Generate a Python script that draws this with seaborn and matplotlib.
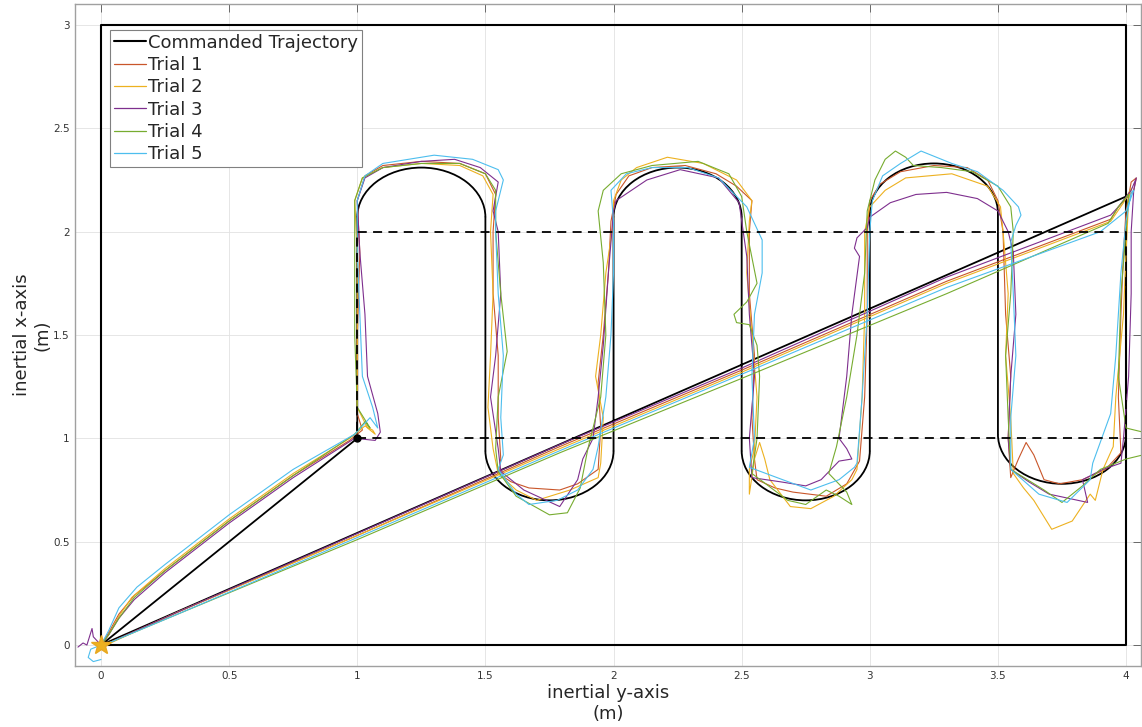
import numpy as np
import pandas as pd
import matplotlib
matplotlib.use("Agg")
import matplotlib.pyplot as plt
import seaborn as sns
from matplotlib.patches import Arc
from matplotlib.lines import Line2D

sns.set_style("white")
plt.rcParams["font.family"] = ["DejaVu Sans"]

# ---------------------------------------------------------------- data
# Horizontal axis = inertial y (m), vertical axis = inertial x (m)

# Flight-area boundary and target band
boundary_y = [0, 4, 4, 0, 0]
boundary_x = [0, 0, 3, 3, 0]
band_y = [1, 4, 4, 1, 1]
band_x = [1, 1, 2, 2, 1]

# Commanded lawn-mower path: straight legs plus rounded turns
top_turn_center = [1.25, 2.25, 3.25]
top_turn_spring = [2.07, 2.07, 2.09]
top_turn_apex = [2.31, 2.31, 2.33]
bottom_turn_center = [1.75, 2.75, 3.75]
bottom_turn_spring = [0.94, 0.94, 1.02]
bottom_turn_low = [0.70, 0.70, 0.78]
entry_point = (1.0, 1.0)
exit_point = (4.0, 2.17)
start_point = (0.0, 0.0)

trial_names = ["Trial 1", "Trial 2", "Trial 3", "Trial 4", "Trial 5"]
trial_colors = ["#C9562A", "#EDB120", "#7E2F8E", "#77AC30", "#4DBEEE"]

trial1_y = [-0.01, 0.0, 0.03, 0.07, 0.13, 0.25, 0.5, 0.75, 0.97, 1.02, 1.0, 1.0, 1.01, 1.0, 1.03, 1.1, 1.25, 1.4, 1.5, 1.54,
            1.53, 1.53, 1.55, 1.55, 1.56, 1.55, 1.6, 1.67, 1.79, 1.86, 1.94, 1.95, 1.94, 1.96, 1.98, 1.99, 2.01, 2.06, 2.15, 2.28,
            2.4, 2.48, 2.54, 2.53, 2.53, 2.55, 2.54, 2.55, 2.56, 2.63, 2.7, 2.83, 2.91, 2.96, 2.98, 2.99, 2.99, 3.0, 3.04, 3.12,
            3.25, 3.38, 3.46, 3.5, 3.52, 3.53, 3.55, 3.54, 3.55, 3.58, 3.61, 3.64, 3.68, 3.74, 3.83, 3.92, 3.98, 3.97, 3.98, 3.99,
            4.0, 4.02, 4.04, 4.03, 3.97, 3.94, 3.3, 2.5, 1.79, 1.0, 0.3, 0.03]
trial1_x = [-0.03, 0.0, 0.06, 0.15, 0.24, 0.36, 0.60, 0.82, 0.99, 1.04, 1.12, 1.5, 1.9, 2.15, 2.27, 2.32, 2.34, 2.33, 2.28, 2.18,
            2.0, 1.7, 1.4, 1.1, 0.9, 0.83, 0.79, 0.76, 0.75, 0.78, 0.85, 1.05, 1.27, 1.5, 1.8, 2.05, 2.18, 2.27, 2.31, 2.32,
            2.28, 2.22, 2.15, 2.0, 1.7, 1.4, 1.1, 0.9, 0.80, 0.76, 0.74, 0.72, 0.78, 0.89, 1.2, 1.6, 2.0, 2.15, 2.23, 2.29,
            2.32, 2.31, 2.25, 2.15, 2.0, 1.6, 1.3, 1.0, 0.81, 0.9, 0.98, 0.92, 0.80, 0.78, 0.80, 0.85, 0.93, 1.2, 1.6, 1.9,
            2.1, 2.24, 2.26, 2.2, 2.12, 2.06, 1.76, 1.33, 0.96, 0.53, 0.16, 0.01]

trial2_y = [0.0, 0.03, 0.07, 0.12, 0.25, 0.5, 0.75, 0.97, 1.03, 1.06, 1.07, 1.04, 1.0, 1.0, 1.0, 0.99, 1.02, 1.1, 1.25, 1.4,
            1.49, 1.53, 1.52, 1.53, 1.52, 1.51, 1.53, 1.55, 1.62, 1.7, 1.83, 1.94, 1.95, 1.96, 1.93, 1.95, 1.97, 2.0, 2.0, 2.03,
            2.09, 2.21, 2.35, 2.48, 2.54, 2.53, 2.52, 2.54, 2.56, 2.55, 2.53, 2.53, 2.55, 2.57, 2.59, 2.61, 2.69, 2.77, 2.86, 2.93,
            2.95, 2.97, 2.98, 2.98, 3.0, 3.06, 3.14, 3.32, 3.46, 3.51, 3.52, 3.54, 3.53, 3.55, 3.56, 3.6, 3.64, 3.71, 3.79, 3.86,
            3.88, 3.91, 3.95, 3.96, 3.99, 4.0, 4.01, 4.02, 3.99, 3.94, 3.3, 2.5, 1.79, 1.0, 0.3, 0.02]
trial2_x = [0.0, 0.05, 0.14, 0.23, 0.37, 0.61, 0.83, 1.0, 1.06, 1.04, 1.02, 1.05, 1.15, 1.5, 1.9, 2.15, 2.26, 2.31, 2.33, 2.32,
            2.27, 2.18, 2.0, 1.7, 1.4, 1.15, 0.95, 0.83, 0.75, 0.70, 0.75, 0.81, 0.88, 1.1, 1.3, 1.5, 1.8, 2.05, 2.15, 2.25,
            2.31, 2.36, 2.33, 2.25, 2.15, 2.05, 1.8, 1.5, 1.2, 0.95, 0.85, 0.73, 0.9, 0.98, 0.9, 0.80, 0.67, 0.66, 0.72, 0.80,
            0.85, 1.2, 1.6, 2.0, 2.12, 2.2, 2.26, 2.28, 2.22, 2.12, 2.0, 1.7, 1.4, 1.1, 0.83, 0.76, 0.70, 0.56, 0.60, 0.73,
            0.70, 0.85, 0.96, 1.2, 1.6, 1.9, 2.15, 2.21, 2.14, 2.05, 1.75, 1.32, 0.95, 0.53, 0.16, 0.0]

trial3_y = [-0.09, -0.07, -0.055, -0.035, -0.03, 0.0, 0.03, 0.07, 0.13, 0.25, 0.5, 0.75, 0.99, 1.07, 1.09, 1.08, 1.04, 1.03, 1.01, 1.0,
            1.03, 1.1, 1.25, 1.38, 1.48, 1.55, 1.53, 1.55, 1.56, 1.54, 1.52, 1.55, 1.56, 1.65, 1.79, 1.86, 1.88, 1.92, 1.94, 1.96,
            1.98, 2.0, 2.01, 2.13, 2.26, 2.41, 2.49, 2.52, 2.53, 2.55, 2.53, 2.54, 2.65, 2.75, 2.81, 2.88, 2.93, 2.91, 2.88, 2.91,
            2.93, 2.96, 2.94, 2.95, 2.99, 3.0, 3.08, 3.18, 3.3, 3.42, 3.5, 3.54, 3.56, 3.57, 3.55, 3.54, 3.55, 3.62, 3.7, 3.85,
            3.83, 3.91, 3.98, 3.99, 4.01, 4.02, 4.02, 4.03, 4.04, 4.02, 3.97, 3.94, 3.3, 2.5, 1.79, 1.0, 0.3, 0.03]
trial3_x = [-0.01, 0.01, 0.0, 0.08, 0.04, 0.0, 0.05, 0.13, 0.22, 0.35, 0.59, 0.81, 1.0, 0.99, 1.03, 1.12, 1.3, 1.6, 1.9, 2.15,
            2.26, 2.31, 2.34, 2.35, 2.31, 2.24, 2.1, 2.0, 1.7, 1.4, 1.2, 0.95, 0.84, 0.75, 0.67, 0.80, 0.9, 1.0, 1.2, 1.45,
            1.8, 2.1, 2.15, 2.25, 2.30, 2.26, 2.14, 1.88, 1.6, 1.3, 1.0, 0.81, 0.79, 0.77, 0.80, 0.89, 0.90, 0.95, 1.0, 1.3,
            1.6, 1.88, 1.92, 1.97, 2.02, 2.07, 2.14, 2.18, 2.19, 2.16, 2.10, 2.0, 1.9, 1.6, 1.3, 1.0, 0.85, 0.79, 0.73, 0.69,
            0.80, 0.85, 0.88, 1.0, 1.3, 1.7, 2.0, 2.2, 2.26, 2.2, 2.12, 2.08, 1.78, 1.34, 0.97, 0.54, 0.16, 0.01]

trial4_y = [0.0, 0.03, 0.07, 0.13, 0.25, 0.5, 0.75, 0.99, 1.03, 1.05, 1.0, 0.99, 0.99, 0.99, 1.02, 1.1, 1.25, 1.4, 1.5, 1.54,
            1.54, 1.56, 1.585, 1.55, 1.54, 1.55, 1.62, 1.75, 1.82, 1.87, 1.9, 1.95, 1.97, 1.96, 1.94, 1.96, 2.03, 2.15, 2.33, 2.45,
            2.5, 2.52, 2.56, 2.52, 2.47, 2.48, 2.53, 2.56, 2.57, 2.56, 2.54, 2.68, 2.75, 2.83, 2.88, 2.93, 2.91, 2.84, 2.87, 2.91,
            2.95, 2.98, 2.99, 3.02, 3.06, 3.1, 3.14, 3.17, 3.28, 3.4, 3.5, 3.55, 3.56, 3.55, 3.53, 3.54, 3.55, 3.68, 3.75, 3.83,
            3.9, 4.0, 4.1, 4.1, 4.0, 3.97, 3.98, 4.0, 4.01, 3.97, 3.93, 3.3, 2.5, 1.79, 1.0, 0.3, 0.03]
trial4_x = [0.0, 0.05, 0.13, 0.23, 0.36, 0.60, 0.82, 1.02, 1.08, 1.05, 1.15, 1.5, 1.9, 2.15, 2.26, 2.31, 2.33, 2.33, 2.28, 2.2,
            2.0, 1.7, 1.42, 1.2, 0.95, 0.84, 0.72, 0.63, 0.64, 0.76, 0.95, 1.2, 1.5, 1.85, 2.1, 2.2, 2.28, 2.32, 2.34, 2.28,
            2.17, 2.0, 1.75, 1.66, 1.60, 1.56, 1.55, 1.45, 1.3, 1.0, 0.83, 0.70, 0.68, 0.75, 0.72, 0.68, 0.74, 0.83, 0.96, 1.2,
            1.5, 1.8, 2.1, 2.25, 2.35, 2.39, 2.36, 2.32, 2.31, 2.29, 2.22, 2.12, 2.0, 1.7, 1.4, 1.1, 0.85, 0.75, 0.69, 0.77,
            0.85, 0.90, 0.93, 1.02, 1.05, 1.3, 1.7, 2.0, 2.18, 2.12, 2.04, 1.70, 1.29, 0.93, 0.51, 0.15, 0.01]

trial5_y = [0.0, -0.03, -0.05, -0.04, 0.0, 0.03, 0.07, 0.14, 0.25, 0.5, 0.75, 0.99, 1.05, 1.08, 1.06, 1.02, 1.01, 1.0, 1.0, 1.03,
            1.1, 1.3, 1.45, 1.55, 1.57, 1.54, 1.54, 1.55, 1.57, 1.56, 1.57, 1.55, 1.62, 1.67, 1.78, 1.86, 1.92, 1.94, 1.97, 1.99,
            2.0, 2.0, 1.99, 2.05, 2.15, 2.29, 2.41, 2.52, 2.58, 2.58, 2.55, 2.54, 2.55, 2.53, 2.66, 2.77, 2.88, 2.94, 2.95, 2.97,
            2.99, 3.0, 3.01, 3.05, 3.12, 3.2, 3.24, 3.32, 3.42, 3.52, 3.58, 3.59, 3.57, 3.55, 3.56, 3.57, 3.55, 3.55, 3.66, 3.77,
            3.86, 3.87, 3.94, 3.96, 3.98, 4.0, 4.02, 4.03, 4.0, 3.9, 3.3, 2.5, 1.79, 1.0, 0.3, 0.03]
trial5_x = [-0.07, -0.08, -0.06, -0.02, 0.0, 0.07, 0.18, 0.28, 0.39, 0.63, 0.85, 1.02, 1.1, 1.05, 1.15, 1.3, 1.6, 1.9, 2.15, 2.27,
            2.33, 2.37, 2.35, 2.3, 2.25, 2.1, 2.0, 1.7, 1.4, 1.1, 0.92, 0.85, 0.73, 0.68, 0.70, 0.75, 0.85, 0.96, 1.2, 1.5,
            1.8, 2.05, 2.2, 2.28, 2.31, 2.31, 2.26, 2.12, 1.96, 1.80, 1.6, 1.3, 1.0, 0.86, 0.80, 0.75, 0.80, 0.86, 0.88, 1.2,
            1.6, 2.0, 2.15, 2.27, 2.33, 2.39, 2.37, 2.33, 2.29, 2.20, 2.12, 2.08, 2.03, 1.95, 1.7, 1.4, 1.1, 0.85, 0.73, 0.69,
            0.80, 0.88, 1.12, 1.4, 1.8, 2.05, 2.19, 2.2, 2.1, 2.0, 1.73, 1.31, 0.94, 0.52, 0.15, 0.01]

x_ticks = [0, 0.5, 1, 1.5, 2, 2.5, 3, 3.5, 4]
x_tick_labels = ["0", "0.5", "1", "1.5", "2", "2.5", "3", "3.5", "4"]
y_ticks = [0, 0.5, 1, 1.5, 2, 2.5, 3]
y_tick_labels = ["0", "0.5", "1", "1.5", "2", "2.5", "3"]

# ---------------------------------------------------------------- frames
trial_frames = []
for name, ys, xs in zip(trial_names,
                        [trial1_y, trial2_y, trial3_y, trial4_y, trial5_y],
                        [trial1_x, trial2_x, trial3_x, trial4_x, trial5_x]):
    trial_frames.append(pd.DataFrame({"y_pos": ys, "x_pos": xs, "trial": name}))
trials = pd.concat(trial_frames, ignore_index=True)

# straight legs of the commanded path (NaN separates legs between turns)
leg_y = [start_point[0], entry_point[0], entry_point[0], np.nan]
leg_x = [start_point[1], entry_point[1], top_turn_spring[0], np.nan]
for i in range(3):
    right = top_turn_center[i] + 0.25
    leg_y += [right, right, np.nan]
    leg_x += [top_turn_spring[i], bottom_turn_spring[i], np.nan]
    right_b = bottom_turn_center[i] + 0.25
    nxt = top_turn_spring[i + 1] if i < 2 else exit_point[1]
    leg_y += [right_b, right_b]
    leg_x += [bottom_turn_spring[i], nxt]
    if i < 2:
        leg_y += [np.nan]
        leg_x += [np.nan]
leg_y += [start_point[0]]
leg_x += [start_point[1]]
commanded = pd.DataFrame({"y_pos": leg_y, "x_pos": leg_x})

# ---------------------------------------------------------------- figure
fig = plt.figure(figsize=(11.42, 7.27), dpi=100)
ax = fig.add_axes([0.066, 0.0843, 0.9335, 0.9098])

ax.plot(boundary_y, boundary_x, color="black", lw=1.5, zorder=2)

ax.plot(commanded["y_pos"], commanded["x_pos"], color="black", lw=1.3,
        solid_capstyle="round", zorder=2)
for cx, s, apex in zip(top_turn_center, top_turn_spring, top_turn_apex):
    ax.add_patch(Arc((cx, s), 0.5, 2 * (apex - s), theta1=0, theta2=180,
                     color="black", lw=1.3, zorder=2))
for cx, s, low in zip(bottom_turn_center, bottom_turn_spring, bottom_turn_low):
    ax.add_patch(Arc((cx, s), 0.5, 2 * (s - low), theta1=180, theta2=360,
                     color="black", lw=1.3, zorder=2))

sns.lineplot(data=trials, x="y_pos", y="x_pos", hue="trial",
             palette=dict(zip(trial_names, trial_colors)), sort=False,
             estimator=None, lw=0.8, legend=False, ax=ax, zorder=3,
             solid_joinstyle="round")

ax.plot(band_y, band_x, color="black", lw=1.3, dashes=(5, 3.5), zorder=4)
ax.plot([entry_point[0]], [entry_point[1]], "o", color="black", ms=5, zorder=5)
ax.plot([start_point[0]], [start_point[1]], "*", color="#EDB120", ms=15,
        mec="#E8A820", zorder=5)

ax.set_xlim(-0.1, 4.06)
ax.set_ylim(-0.1, 3.1)
ax.set_xticks(x_ticks)
ax.set_xticklabels(x_tick_labels)
ax.set_yticks(y_ticks)
ax.set_yticklabels(y_tick_labels)
ax.tick_params(direction="in", length=6, width=0.6, top=True, right=True,
               labelsize=7.5, labelcolor="#333333", color="#555555", pad=4)
ax.grid(True, color="#e2e2e2", lw=0.6)
ax.set_axisbelow(True)
for sp in ax.spines.values():
    sp.set_color("#a0a0a0")
    sp.set_linewidth(1.0)

ax.set_xlabel("inertial y-axis\n(m)", fontsize=13, labelpad=2, color="#262626")
ax.set_ylabel("inertial x-axis\n(m)", fontsize=13, labelpad=1, color="#262626")

handles = [Line2D([], [], color="black", lw=1.5)] + \
          [Line2D([], [], color=c, lw=0.9) for c in trial_colors]
labels = ["Commanded Trajectory"] + trial_names
leg = ax.legend(handles, labels, loc="upper left", bbox_to_anchor=(0.0325, 0.961),
                borderaxespad=0, fontsize=13, handlelength=1.8, handletextpad=0.1,
                labelspacing=0.24, borderpad=0.2, fancybox=False, framealpha=1,
                edgecolor="#808080")
leg.get_frame().set_linewidth(0.8)

fig.savefig("out.png", dpi=100)
